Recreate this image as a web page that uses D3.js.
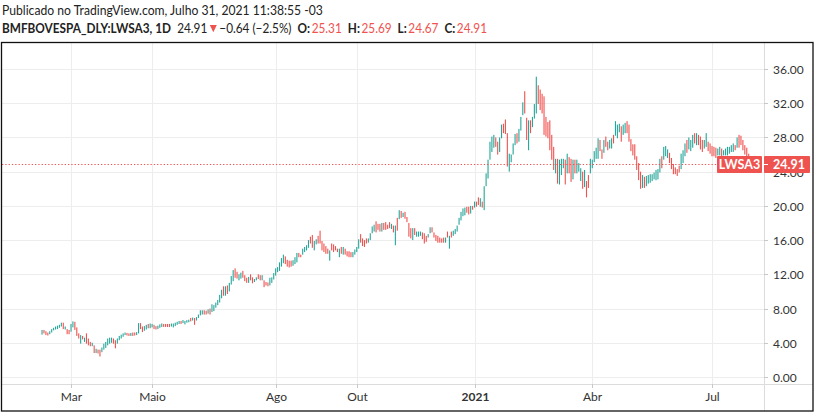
<!DOCTYPE html>
<html><head><meta charset="utf-8">
<script src="https://cdn.jsdelivr.net/npm/d3@7"></script>
<style>html,body{margin:0;padding:0;background:#fff;}svg{display:block;}</style>
</head><body>
<svg id="c" width="816" height="413"></svg>
<script>
// ---------- DATA ----------
const symbol = "LWSA3";
const lastClose = 24.91;
const headerTitle = "Publicado no TradingView.com, Julho 31, 2021 11:38:55 -03";
const headerSymbol = "BMFBOVESPA_DLY:LWSA3, 1D";
const headerChange = "\u22120.64 (\u22122.5%)";
const ohlcLabels = ["O:", "H:", "L:", "C:"];
const ohlcValues = ["25.31", "25.69", "24.67", "24.91"];
const yTicks = [0, 4, 8, 12, 16, 20, 24, 28, 32, 36];
const tickMonths = ["2020-03", "2020-05", "2020-08", "2020-10", "2021-01", "2021-04", "2021-07"];
const tickLabels = ["Mar", "Maio", "Ago", "Out", "2021", "Abr", "Jul"];
const firstDay = "2020-02-06", lastDay = "2021-07-30";
const holidays = ["2020-02-24","2020-02-25","2020-04-10","2020-04-21","2020-05-01","2020-06-11","2020-09-07","2020-10-12","2020-11-02","2020-12-24","2020-12-25","2020-12-31","2021-01-01","2021-02-15","2021-02-16","2021-04-02","2021-04-21","2021-06-03"];

const lows = [
 4.95,5.10,4.90,4.85,5.00,5.20,5.45,5.55,5.60,5.75,5.90,5.60,5.55,5.00,5.00,
 5.30,5.80,5.50,4.80,4.50,3.90,4.40,4.10,3.90,3.70,3.60,3.60,2.80,2.80,2.75,2.40,2.90,3.20,3.40,3.70,3.90,4.00,
 3.90,3.35,3.90,4.30,4.50,4.70,4.90,4.85,4.80,4.80,4.80,4.85,4.90,5.10,5.60,5.25,5.40,5.55,5.70,5.70,
 5.80,5.60,5.55,5.60,5.75,5.85,5.85,5.85,5.85,5.85,5.90,5.80,5.95,6.10,6.20,6.20,6.30,6.15,6.35,6.40,
 6.50,6.60,6.10,6.60,6.90,7.20,7.30,7.30,7.30,7.40,7.30,7.60,7.70,8.10,8.40,8.70,9.20,9.50,9.50,9.70,10.00,
 10.80,11.20,11.60,11.50,11.30,11.50,11.60,11.20,11.00,11.00,11.30,10.95,11.10,11.30,11.45,11.30,11.30,10.50,10.70,10.60,10.70,11.00,11.40,
 11.85,12.25,12.40,12.90,13.30,13.20,12.90,12.80,12.90,13.00,13.20,13.40,14.00,14.00,14.30,14.60,14.80,15.10,15.60,15.10,14.80,
 15.50,15.60,15.60,14.80,14.60,14.40,14.40,13.60,14.80,14.60,14.80,14.60,14.00,14.40,14.30,14.30,14.10,14.00,14.00,14.00,14.30,
 14.60,15.00,15.70,15.30,15.20,15.60,15.70,16.00,16.80,17.00,16.90,17.20,17.00,17.00,17.20,17.20,17.30,17.40,17.30,16.90,15.40,
 17.10,18.45,18.60,18.70,18.50,18.10,16.40,16.20,16.00,16.60,16.40,16.40,16.50,16.10,15.60,15.80,16.30,16.80,16.90,16.30,
 15.90,15.70,15.70,15.70,15.70,15.70,16.30,15.00,16.30,16.50,16.70,17.00,17.80,18.30,18.80,18.90,19.20,19.00,19.10,19.55,
 19.80,19.90,20.10,19.90,19.80,19.50,22.30,23.20,25.40,26.30,26.80,26.90,26.00,26.30,27.90,28.50,28.40,24.60,24.00,25.10,
 26.00,27.10,27.30,27.50,28.80,30.60,30.80,27.70,26.50,28.50,29.20,30.20,30.80,31.90,31.20,30.80,28.30,28.10,
 27.90,26.50,25.40,24.20,23.80,22.60,22.50,23.60,24.40,22.50,23.80,23.80,22.80,23.10,23.80,23.80,24.00,22.90,22.00,22.20,21.00,22.10,23.80,
 24.40,25.10,25.50,25.50,26.40,25.50,26.20,26.90,26.50,26.70,26.70,27.30,28.20,27.90,28.60,27.50,28.30,28.50,28.50,27.50,
 26.40,25.90,25.40,24.20,23.00,22.00,22.10,22.10,22.30,22.60,22.70,22.90,23.10,23.00,23.10,23.90,24.40,25.40,25.80,25.60,25.00,
 24.30,23.70,23.70,23.50,23.90,24.30,25.00,25.80,26.20,26.60,26.40,26.80,27.30,27.10,27.10,26.60,26.30,26.70,26.90,26.40,26.10,
 25.80,25.80,25.60,25.90,25.90,25.70,25.90,25.90,25.90,26.10,26.30,26.30,26.50,26.80,26.80,27.10,26.50,26.00,25.50,25.30,24.80,24.67
];
const highs = [
 5.50,5.50,5.35,5.20,5.35,5.60,5.75,5.90,6.00,6.10,6.35,6.35,5.90,5.60,5.50,
 6.20,6.50,6.45,5.80,5.10,4.90,4.80,4.60,5.10,4.50,4.10,4.00,3.70,3.30,3.20,3.20,3.45,3.90,4.10,4.50,4.60,4.60,
 4.50,4.30,4.50,4.80,4.95,5.10,5.20,5.15,5.10,5.15,5.20,5.20,5.25,6.30,6.30,5.90,5.95,6.10,6.20,6.25,
 6.20,6.10,5.95,6.00,6.15,6.25,6.20,6.20,6.20,6.20,6.25,6.25,6.35,6.45,6.55,6.55,6.65,6.55,6.65,6.70,
 6.90,6.95,6.90,7.00,7.30,7.80,7.80,7.80,7.75,7.90,8.00,8.50,8.40,8.70,9.00,9.60,10.20,10.60,10.60,10.70,11.00,
 11.80,12.50,12.70,12.30,12.00,12.20,12.40,11.90,11.60,11.70,12.00,11.65,11.45,11.65,12.00,11.90,11.90,11.30,11.10,11.05,11.60,11.65,12.15,
 12.70,12.85,13.40,13.90,14.30,14.10,13.70,13.60,13.60,13.65,14.00,14.50,14.50,14.30,15.00,15.20,15.40,16.00,16.40,16.60,15.90,
 16.10,16.50,17.10,15.90,15.60,15.30,15.00,14.80,15.60,15.50,15.30,15.00,15.00,15.20,15.20,15.00,14.70,14.70,14.60,14.60,14.90,
 15.20,16.10,16.70,16.20,16.00,16.20,16.20,16.80,17.60,17.80,18.20,17.90,17.90,18.00,18.00,18.10,17.80,18.10,17.90,17.70,17.70,
 18.60,19.50,19.40,19.20,19.30,18.70,18.00,17.40,17.40,17.40,17.00,17.00,17.00,16.90,16.80,16.50,16.70,17.50,17.50,16.90,
 16.60,16.50,16.30,16.20,16.30,16.30,17.00,16.50,17.00,17.10,17.30,17.70,18.60,19.30,19.70,19.80,19.90,19.90,20.00,20.00,
 20.50,20.50,21.00,20.90,20.50,22.30,23.80,25.40,27.50,28.10,28.30,28.00,27.50,28.00,29.50,29.60,30.10,28.50,26.10,26.00,
 27.30,28.40,28.50,29.00,30.40,32.10,33.40,30.30,30.00,30.00,30.40,31.90,35.10,34.10,33.60,33.10,32.80,30.40,
 29.80,30.00,28.30,26.90,25.50,25.50,25.40,25.50,25.50,25.40,26.10,25.70,25.50,25.40,25.40,25.40,25.00,24.40,24.00,24.20,22.90,23.60,25.50,
 25.40,26.40,26.80,27.90,27.70,26.60,27.70,28.10,27.50,27.70,27.90,28.30,29.90,29.50,29.60,29.30,29.50,29.70,29.90,29.50,
 27.80,27.20,27.20,25.80,25.00,24.00,23.60,23.40,23.50,23.60,23.70,23.70,23.90,24.20,24.30,25.50,25.80,26.90,27.00,26.60,26.20,
 25.60,24.90,24.50,24.30,24.70,26.10,26.50,27.30,27.70,28.00,27.70,28.30,28.50,28.50,28.30,28.10,27.70,27.70,28.50,27.50,27.30,
 27.00,26.90,26.80,26.70,26.90,26.70,26.50,26.70,26.90,26.90,27.10,27.30,27.10,28.00,28.30,28.20,27.70,27.10,26.80,26.10,25.80,25.69
];
// u = closed above open (teal), d = closed below open (red); one string per month
const dirs = [
 "udddu" + "uuuuu" + "ududd",
 "uuddd" + "ududd" + "dudud" + "duuuu" + "uu",
 "dduuu" + "uuddu" + "dduud" + "duudu",
 "udduu" + "udddd" + "uuuuu" + "duuuu",
 "duduu" + "uuddu" + "duuuu" + "uudud" + "u",
 "uudduu" + "dddudd" + "uudduddd" + "uuu",
 "uuuuu" + "ddddu" + "uuddu" + "uuudd" + "u",
 "udddd" + "ddudd" + "ddudu" + "ddddu" + "u",
 "uuddd" + "duuuu" + "dddud" + "dddud" + "u",
 "dudud" + "dddud" + "uuudd" + "duudd",
 "ddddd" + "ududu" + "uuuuu" + "uddud",
 "uddud" + "uuuuu" + "udduu" + "ddduu",
 "uuduu" + "uddud" + "uuudd" + "ddd",
 "ddddu" + "duuud" + "uddud" + "uuudu" + "ddu",
 "uuuud" + "duddu" + "uduuu" + "duudd",
 "ddddd" + "duduu" + "uuuuu" + "uduuu" + "d",
 "ddddd" + "uuudu" + "uudud" + "dduud" + "d",
 "ddduu" + "duuuu" + "uudud" + "ddddd" + "dd"
].join("").split("");

// ---------- SETUP ----------
const W = 816, H = 413;
const frame = {x0: 2, y0: 42, x1: 813, y1: 411};
const plot = {x0: 2, x1: 764, y0: 42, y1: 384};
const UP = "#26a69a", DOWN = "#ef5350";
const FONT = "Lato, 'Noto Sans', 'Liberation Sans', sans-serif";

const svg = d3.select("#c");
svg.append("rect").attr("width", W).attr("height", H).attr("fill", "#fff");

// trading calendar (categories)
const hol = new Set(holidays);
const dates = [];
for (let d = new Date(firstDay + "T00:00:00Z"); d <= new Date(lastDay + "T00:00:00Z"); d.setUTCDate(d.getUTCDate() + 1)) {
  const wd = d.getUTCDay();
  const s = d.toISOString().slice(0, 10);
  if (wd !== 0 && wd !== 6 && !hol.has(s)) dates.push(s);
}
const N = highs.length;
const bars = d3.range(N).map(i => ({i, lo: lows[i], hi: highs[i], up: dirs[i] === "u"}));

const x = d3.scaleLinear().domain([15, 347]).range([71, 712]);
const y = d3.scaleLinear().domain([0, 36]).range([377, 68.98]);

const plotG = svg.append("g");
plotG.append("clipPath").attr("id", "clip").append("rect")
  .attr("x", plot.x0).attr("y", plot.y0).attr("width", plot.x1 - plot.x0).attr("height", plot.y1 - plot.y0);

// grid
const grid = plotG.append("g").attr("stroke", "#ededed").attr("stroke-width", 1);
yTicks.forEach(v => {
  const yy = Math.round(y(v)) + 0.5;
  grid.append("line").attr("x1", plot.x0).attr("x2", plot.x1).attr("y1", yy).attr("y2", yy);
});
const tickIdx = tickMonths.map(m => dates.findIndex(d => d.startsWith(m)));
tickIdx.forEach(i => {
  const xx = Math.round(x(i)) + 0.5;
  grid.append("line").attr("x1", xx).attr("x2", xx).attr("y1", plot.y0).attr("y2", plot.y1);
});

// bars
plotG.append("g").attr("clip-path", "url(#clip)").selectAll("rect").data(bars).join("rect")
  .attr("x", d => x(d.i) - 0.55)
  .attr("width", 1.1)
  .attr("y", d => y(d.hi))
  .attr("height", d => Math.max(1, y(d.lo) - y(d.hi)))
  .attr("fill", d => d.up ? UP : DOWN);

// price line
const py = Math.round(y(lastClose)) + 0.5;
svg.append("line").attr("x1", plot.x0).attr("x2", 717).attr("y1", py).attr("y2", py)
  .attr("stroke", DOWN).attr("stroke-width", 1).attr("stroke-dasharray", "1.3,2");

// axes separators
svg.append("line").attr("x1", frame.x0).attr("x2", frame.x1).attr("y1", plot.y1 + 0.5).attr("y2", plot.y1 + 0.5)
  .attr("stroke", "#dcdcdc");
svg.append("line").attr("x1", plot.x1 + 0.5).attr("x2", plot.x1 + 0.5).attr("y1", frame.y0).attr("y2", frame.y1)
  .attr("stroke", "#dcdcdc");

// y axis labels
const yAx = svg.append("g");
yTicks.forEach(v => {
  const yy = Math.round(y(v)) + 0.5;
  yAx.append("line").attr("x1", plot.x1).attr("x2", plot.x1 + 4).attr("y1", yy).attr("y2", yy).attr("stroke", "#c8c8c8");
  yAx.append("text").attr("x", 773).attr("y", yy + 4.3).text(v.toFixed(2))
    .attr("font-family", FONT).attr("font-size", 12).attr("fill", "#333");
});

// x axis labels
tickIdx.forEach((i, k) => {
  const xx = Math.round(x(i)) + 0.5;
  svg.append("line").attr("x1", xx).attr("x2", xx).attr("y1", plot.y1).attr("y2", plot.y1 + 4).attr("stroke", "#c8c8c8");
  svg.append("text").attr("x", xx).attr("y", 401).attr("text-anchor", "middle")
    .attr("font-family", FONT).attr("font-size", 12).attr("fill", "#333")
    .attr("font-weight", tickLabels[k] === "2021" ? 700 : 400)
    .text(tickLabels[k]);
});

// price labels
svg.append("rect").attr("x", 717).attr("y", py - 8.5).attr("width", 45).attr("height", 17).attr("fill", DOWN).attr("rx", 1);
svg.append("text").attr("x", 739.5).attr("y", py + 4.5).attr("text-anchor", "middle").attr("fill", "#fff")
  .attr("font-family", FONT).attr("font-size", 12.5).attr("font-weight", 700).text(symbol);
svg.append("rect").attr("x", 764).attr("y", py - 8.5).attr("width", 46).attr("height", 17).attr("fill", DOWN).attr("rx", 1);
svg.append("line").attr("x1", 764).attr("x2", 768).attr("y1", py).attr("y2", py).attr("stroke", "#fff");
svg.append("text").attr("x", 773).attr("y", py + 4.5).attr("fill", "#fff")
  .attr("font-family", FONT).attr("font-size", 12.5).attr("font-weight", 700).text(lastClose.toFixed(2));

// frame
svg.append("rect").attr("x", frame.x0 - 0.5).attr("y", frame.y0 + 0.5).attr("width", frame.x1 - frame.x0 + 0.5)
  .attr("height", frame.y1 - frame.y0 - 0.5).attr("fill", "none").attr("stroke", "#111").attr("stroke-width", 1.3);

// ---------- HEADER ----------
function measure(txt, bold) {
  const t = svg.append("text").attr("font-family", FONT).attr("font-size", 14)
    .attr("font-weight", bold ? 700 : 400).attr("opacity", 0).text(txt);
  const w = t.node().getComputedTextLength();
  t.remove();
  return w;
}
// a text squeezed horizontally with a transform (keeps 14px height, narrower like the reference font)
function squeezed(txt, x0, yb, sx, opts) {
  svg.append("g").attr("transform", `translate(${x0},${yb}) scale(${sx},1)`)
    .append("text").attr("x", 0).attr("y", 0).text(txt)
    .attr("font-family", FONT).attr("font-size", 14)
    .attr("font-weight", opts.bold ? 700 : 400).attr("fill", opts.color || "#222");
}
squeezed(headerTitle, 2, 15, 321 / measure(headerTitle, false), {});

// second line: all segments at 14px, compressed by one common ratio so the line spans x=2..487
const segs = [
  {t: headerSymbol, bold: true, gap: 0},
  {t: lastClose.toFixed(2), gap: 6},
  {tri: true, gap: 2.5},
  {t: headerChange, gap: 2.5},
];
ohlcLabels.forEach((l, k) => {
  segs.push({t: l, bold: true, gap: 6});
  segs.push({t: ohlcValues[k], color: DOWN, gap: 1.5});
});
segs.forEach(s => { s.w = s.tri ? 0 : measure(s.t, s.bold); });
const startX = 2, endX = 487, triW = 7;
const ratio = Math.min(1, (endX - startX - d3.sum(segs, s => s.gap) - triW) / d3.sum(segs, s => s.w));
let cx = startX;
segs.forEach(s => {
  cx += s.gap;
  if (s.tri) {
    svg.append("path").attr("d", `M${cx},25 L${cx + triW},25 L${cx + triW / 2},32.3 Z`).attr("fill", DOWN);
    cx += triW;
    return;
  }
  squeezed(s.t, cx, 33.3, ratio, {bold: s.bold, color: s.color});
  cx += s.w * ratio;
});
</script>
</body></html>
